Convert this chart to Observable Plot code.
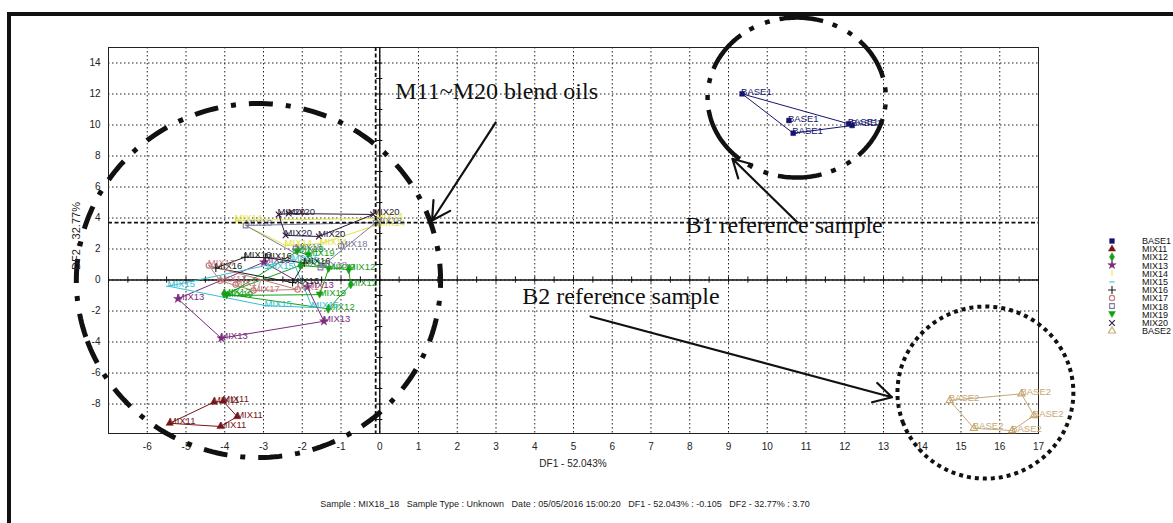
<!DOCTYPE html>
<html>
<head>
<meta charset="utf-8">
<script src="https://cdn.jsdelivr.net/npm/d3@7"></script>
<script src="https://cdn.jsdelivr.net/npm/@observablehq/plot@0.6"></script>
<style>
html, body { margin: 0; padding: 0; background: #fff; overflow: hidden; }
#wrap { position: relative; width: 1173px; height: 523px; overflow: hidden; font-family: "Liberation Sans", Arial, sans-serif; color: #222; }
#wrap svg.chart { position: absolute; left: 0; top: 0; }
#border { position: absolute; left: 7px; top: 12px; width: 1400px; height: 900px; border-left: 4px solid #111; border-top: 4px solid #111; pointer-events: none; }
.lab { position: absolute; white-space: pre; line-height: 1; }
.leg { position: absolute; height: 10px; }
</style>
</head>
<body>
<div id="wrap"></div>
<script>
// ---------- data (DF1, DF2) ----------
const seriesNames = ["BASE1","MIX11","MIX12","MIX13","MIX14","MIX15","MIX16","MIX17","MIX18","MIX19","MIX20","BASE2"];
const BASE1 = [[9.35,12.01],[10.56,10.29],[10.67,9.47],[12.10,10.08],[12.19,9.97]];
const MIX11 = [[-5.42,-9.24],[-4.28,-7.88],[-4.04,-7.82],[-3.68,-8.81],[-4.11,-9.45]];
const MIX12 = [[-4.02,-0.89],[-1.33,-1.86],[-0.75,-0.29],[-0.80,0.68],[-2.05,0.94]];
const MIX13 = [[-5.21,-1.21],[-2.99,1.15],[-1.87,-0.46],[-1.44,-2.66],[-4.09,-3.75]];
const MIX14 = [[-3.72,3.85],[-2.43,2.23],[-1.53,2.35],[-0.08,3.97],[-0.03,3.58]];
const MIX15 = [[-5.45,-0.40],[-2.95,-1.65],[-1.74,-1.77],[-2.25,1.30],[-2.90,0.75]];
const MIX16 = [[-4.23,0.78],[-3.48,1.47],[-2.95,1.45],[-1.95,1.10],[-2.25,-0.16]];
const MIX17 = [[-4.41,0.94],[-4.12,-0.05],[-3.72,-0.29],[-3.26,-0.68],[-2.12,-0.61]];
const MIX18 = [[-3.46,3.52],[-0.105,3.70],[-2.17,2.03],[-1.53,0.81],[-1.00,2.20]];
const MIX19 = [[-3.95,-1.00],[-2.13,1.85],[-1.85,1.60],[-1.32,0.72],[-1.55,-0.94]];
const MIX20 = [[-2.61,4.23],[-2.35,4.29],[-0.17,4.23],[-2.43,2.88],[-1.57,2.81]];
const BASE2 = [[14.71,-7.77],[16.56,-7.34],[16.88,-8.74],[16.32,-9.71],[15.33,-9.56]];

const xTicks = [-6,-5,-4,-3,-2,-1,0,1,2,3,4,5,6,7,8,9,10,11,12,13,14,15,16,17];
const yTicks = [-8,-6,-4,-2,0,2,4,6,8,10,12,14];
const selectedX = [-0.105];   // DF1 of MIX18_18
const selectedY = [3.70];     // DF2 of MIX18_18

const xLabel = "DF1 - 52.043%";
const yLabel = "DF2 - 32.77%";
const captionText = "Sample : MIX18_18   Sample Type : Unknown   Date : 05/05/2016 15:00:20   DF1 - 52.043% : -0.105   DF2 - 32.77% : 3.70";

// annotations (in DF units)
const noteTexts = ["M11~M20 blend oils", "B1 reference sample", "B2 reference sample"];
const noteX = [0.40, 7.89, 3.68];
const noteY = [11.71, 3.06, -1.55];
const arrowFromX = [2.99, 10.78, 5.44];
const arrowFromY = [10.16, 3.71, -2.35];
const arrowToX = [1.35, 9.10, 13.22];
const arrowToY = [3.84, 7.82, -7.56];
const ringCX = [-3.13, 10.76, 15.63];
const ringCY = [-0.03, 11.77, -7.26];
const ringRX = [4.70, 2.30, 2.27];
const ringRY = [11.42, 5.16, 5.55];

// ---------- styles ----------
const triDown = {draw(ctx, size) { const h = Math.sqrt(size) * 0.62; ctx.moveTo(-h, -h * 0.75); ctx.lineTo(h, -h * 0.75); ctx.lineTo(0, h); ctx.closePath(); }};
const vBar = {draw(ctx, size) { const h = Math.sqrt(size) * 0.6; ctx.moveTo(0, -h); ctx.lineTo(0, h); }};
const hBar = {draw(ctx, size) { const h = Math.sqrt(size) * 0.55; ctx.moveTo(-h, 0); ctx.lineTo(h, 0); }};
const style = {
  BASE1: {color: "#14146e", symbol: d3.symbolSquare, filled: true},
  MIX11: {color: "#761616", symbol: d3.symbolTriangle, filled: true},
  MIX12: {color: "#18a018", symbol: d3.symbolDiamond, filled: true},
  MIX13: {color: "#7a2a7a", symbol: d3.symbolStar, filled: true},
  MIX14: {color: "#e4e43c", symbol: vBar, filled: false},
  MIX15: {color: "#36c0d2", symbol: hBar, filled: false},
  MIX16: {color: "#1a1a1a", symbol: d3.symbolPlus, filled: false},
  MIX17: {color: "#c07a7a", symbol: d3.symbolCircle, filled: false},
  MIX18: {color: "#7c7ca0", symbol: d3.symbolSquare, filled: false},
  MIX19: {color: "#12a012", symbol: triDown, filled: true},
  MIX20: {color: "#2a1a3a", symbol: d3.symbolTimes, filled: false},
  BASE2: {color: "#c6a874", symbol: d3.symbolTriangle, filled: false}
};
const seriesData = {BASE1, MIX11, MIX12, MIX13, MIX14, MIX15, MIX16, MIX17, MIX18, MIX19, MIX20, BASE2};

// ---------- build marks ----------
const X = d => d[0], Y = d => d[1];
const marks = [];
marks.push(Plot.ruleX(xTicks.filter(d => d < 17), {stroke: "#222", strokeWidth: 1, strokeDasharray: "1.5,2.5"}));
marks.push(Plot.ruleY(yTicks, {stroke: "#222", strokeWidth: 1, strokeDasharray: "1.5,2.5"}));
marks.push(Plot.frame({stroke: "#222", strokeWidth: 1}));
marks.push(Plot.ruleX([0], {stroke: "#111", strokeWidth: 1.4}));
marks.push(Plot.ruleY([0], {stroke: "#111", strokeWidth: 1.4}));
marks.push(Plot.ruleX(d3.range(-7, 17.001, 0.5), {y1: -0.2, y2: 0.2, stroke: "#111", strokeWidth: 1}));
marks.push(Plot.ruleY(d3.range(-9, 15.001, 1), {x1: -0.08, x2: 0.08, stroke: "#111", strokeWidth: 1}));

for (const name of seriesNames) {
  const s = style[name], data = seriesData[name];
  marks.push(Plot.hull(data, {x: X, y: Y, stroke: s.color, strokeWidth: 1}));
}
for (const name of seriesNames) {
  const s = style[name], data = seriesData[name];
  marks.push(Plot.dot(data, {
    x: X, y: Y, symbol: s.symbol, r: name === "MIX19" ? 3.2 : 2.7,
    fill: s.filled ? s.color : "none", stroke: s.color, strokeWidth: s.filled ? 0.5 : 1.1
  }));
}
for (const name of seriesNames) {
  const s = style[name], data = seriesData[name];
  marks.push(Plot.text(data, {
    x: X, y: Y, text: () => name, fill: s.color, fontSize: 9.5,
    textAnchor: "start", lineAnchor: "bottom", dx: -1, dy: 1
  }));
}
// selected-sample cross hair
marks.push(Plot.ruleX(selectedX, {stroke: "#111", strokeWidth: 1.8, strokeDasharray: "4,2.5"}));
marks.push(Plot.ruleY(selectedY, {stroke: "#111", strokeWidth: 1.8, strokeDasharray: "4,2.5"}));

// rings
function ringPoints(i) {
  return d3.range(0, 361, 1.5).map(a => ({
    x: ringCX[i] + ringRX[i] * Math.cos((a + 200) * Math.PI / 180),
    y: ringCY[i] + ringRY[i] * Math.sin((a + 200) * Math.PI / 180)
  }));
}
const ringStyles = [
  {strokeWidth: 5, strokeDasharray: "24,13,5,13"},
  {strokeWidth: 4.5, strokeDasharray: "44,10,5,12,5,10"},
  {strokeWidth: 4, strokeDasharray: "4,4"}
];
ringStyles.forEach((rs, i) => {
  marks.push(Plot.line(ringPoints(i), {x: "x", y: "y", stroke: "#111", strokeLinecap: "butt", strokeLinejoin: "miter", ...rs}));
});
// arrows
const arrows = arrowFromX.map((_, i) => ({x1: arrowFromX[i], y1: arrowFromY[i], x2: arrowToX[i], y2: arrowToY[i]}));
marks.push(Plot.arrow(arrows, {x1: "x1", y1: "y1", x2: "x2", y2: "y2", stroke: "#111", strokeWidth: 2.2, headLength: 14, headAngle: 58}));
// annotation texts
const notes = noteTexts.map((t, i) => ({t, x: noteX[i], y: noteY[i]}));
marks.push(Plot.text(notes, {x: "x", y: "y", text: "t", fontSize: 24, fontFamily: "Liberation Serif, Times New Roman, serif", textAnchor: "start", lineAnchor: "bottom", fill: "#111"}));

const chart = Plot.plot({
  width: 1173, height: 523,
  marginLeft: 108, marginRight: 135, marginTop: 47, marginBottom: 90,
  x: {domain: [-7, 17], ticks: xTicks, tickSize: 0, tickPadding: 9, tickFormat: d => String(d), label: null},
  y: {domain: [-9.9, 15], ticks: yTicks, tickSize: 0, tickPadding: 8, tickFormat: d => String(d), label: null},
  style: {background: "transparent", fontFamily: "Liberation Sans, Arial, sans-serif", fontSize: "10px", color: "#222", overflow: "visible"},
  marks
});
chart.classList.add("chart");

const wrap = document.getElementById("wrap");
wrap.appendChild(chart);
const border = document.createElement("div"); border.id = "border"; wrap.appendChild(border);

function addLabel(text, cx, cy, size, extra) {
  const d = document.createElement("div");
  d.className = "lab";
  d.textContent = text;
  d.style.left = cx + "px"; d.style.top = cy + "px";
  d.style.fontSize = size + "px";
  d.style.transform = "translate(-50%,-50%)" + (extra || "");
  wrap.appendChild(d);
}
addLabel(xLabel, 573, 464, 10);
addLabel(yLabel, 76, 236, 11, " rotate(-90deg)");
addLabel(captionText, 565, 504, 9);

// legend
seriesNames.forEach((name, i) => {
  const s = style[name];
  const cy = 240.5 + i * 8.2;
  const row = document.createElement("div");
  row.className = "leg";
  row.style.left = "1104px"; row.style.top = (cy - 5) + "px";
  const svg = d3.create("svg").attr("width", 16).attr("height", 10).style("position", "absolute").style("left", "0px").style("top", "0px").style("overflow", "visible");
  svg.append("path")
    .attr("transform", "translate(8,5)")
    .attr("d", d3.symbol(s.symbol, name === "MIX19" ? 30 : 22)())
    .attr("fill", s.filled ? s.color : "none")
    .attr("stroke", s.color)
    .attr("stroke-width", s.filled ? 0.5 : 1.1);
  row.appendChild(svg.node());
  const t = document.createElement("div");
  t.className = "lab";
  t.textContent = name;
  t.style.left = "38px"; t.style.top = "0.5px"; t.style.fontSize = "9px"; t.style.lineHeight = "10px";
  t.style.color = "#111";
  row.appendChild(t);
  wrap.appendChild(row);
});
</script>
</body>
</html>
